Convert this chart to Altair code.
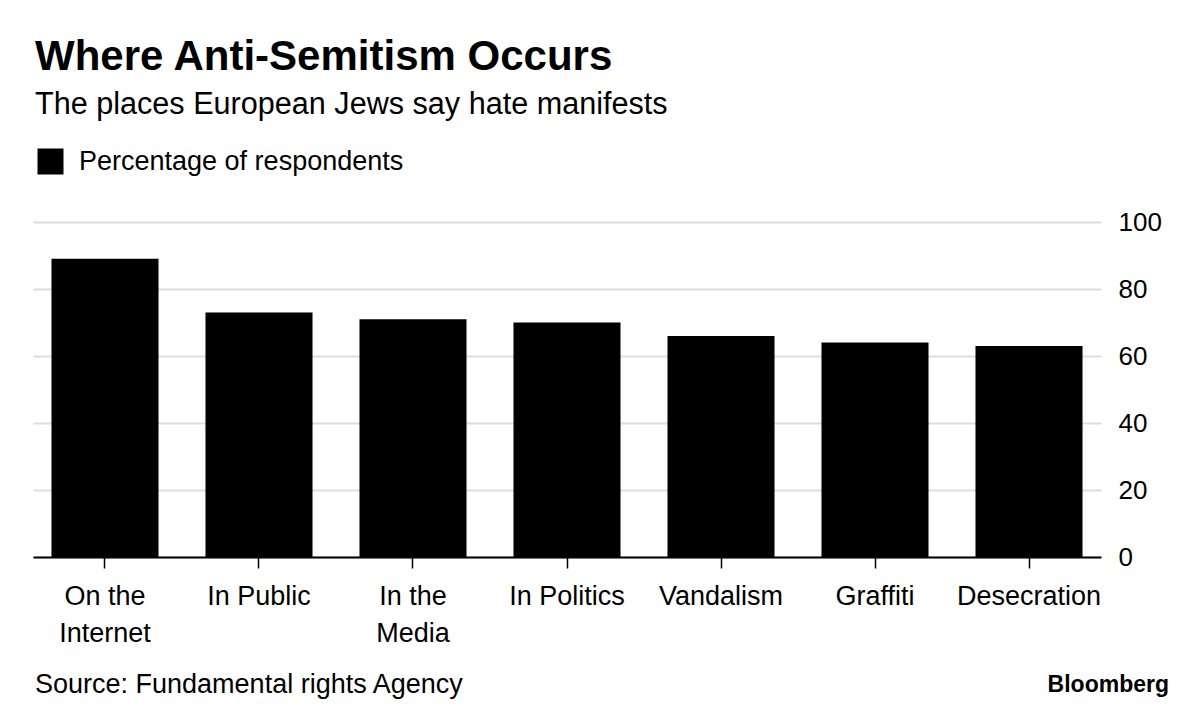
import altair as alt
import pandas as pd

places = ["On the Internet", "In Public", "In the Media", "In Politics",
          "Vandalism", "Graffiti", "Desecration"]
values = [89, 73, 71, 70, 66, 64, 63]
series_name = "Percentage of respondents"
y_ticks = [0, 20, 40, 60, 80, 100]

title_text = "Where Anti-Semitism Occurs"
subtitle_text = "The places European Jews say hate manifests"
source_text = "Source: Fundamental rights Agency"
brand_text = "Bloomberg"

FONT = "Liberation Sans"

df = pd.DataFrame({"place": places, "value": values, "series": [series_name] * len(places)})

label_expr = ("datum.label == 'On the Internet' ? ['On the', 'Internet'] : "
              "datum.label == 'In the Media' ? ['In the', 'Media'] : datum.label")

bars = alt.Chart(df).mark_bar(color="black").encode(
    x=alt.X("place:N", sort=places, title=None,
            scale=alt.Scale(paddingInner=0.305, paddingOuter=0.12),
            axis=alt.Axis(labelAngle=0, labelFontSize=27, labelFont=FONT,
                          labelColor="black", labelExpr=label_expr,
                          labelLineHeight=37, labelPadding=15,
                          labelOverlap=False, labelBound=False, labelLimit=0,
                          tickSize=11, tickColor="black", tickWidth=1.5,
                          domainColor="black", domainWidth=2, grid=False)),
    y=alt.Y("value:Q", title=None,
            scale=alt.Scale(domain=[0, 100]),
            axis=alt.Axis(orient="right", values=y_ticks, grid=True,
                          gridColor="#dddddd", gridWidth=2,
                          domain=False, ticks=False, labelPadding=17,
                          labelFontSize=26, labelFont=FONT, labelColor="black")),
    color=alt.Color("series:N", title=None,
                    scale=alt.Scale(range=["black"]),
                    legend=alt.Legend(orient="none", legendX=4, legendY=-74,
                                      symbolType="square", symbolSize=676,
                                      symbolStrokeWidth=0, symbolFillColor="black",
                                      labelFontSize=27, labelFont=FONT,
                                      labelColor="black", labelOffset=15,
                                      labelLimit=0, padding=0)),
)


def txt(text, x, y, size, weight="normal", align="left"):
    return alt.Chart(pd.DataFrame({"t": [text]})).mark_text(
        font=FONT, fontSize=size, fontWeight=weight, align=align,
        baseline="alphabetic", color="black"
    ).encode(x=alt.value(x), y=alt.value(y), text="t:N")


title = txt(title_text, 2, -152, 42, "bold")
subtitle = txt(subtitle_text, 2, -108, 30.6)
source = txt(source_text, 2, 471, 27)
brand = txt(brand_text, 1136, 470, 23, "bold", "right")

chart = alt.layer(bars, title, subtitle, source, brand).properties(
    width=1068, height=335,
    background="white",
    autosize=alt.AutoSizeParams(type="none"),
    padding={"left": 25, "top": 214, "right": 91, "bottom": 149},
).configure_view(strokeWidth=0, stroke="transparent")

chart.save("out.html", embed_options={"renderer": "svg", "actions": False})
